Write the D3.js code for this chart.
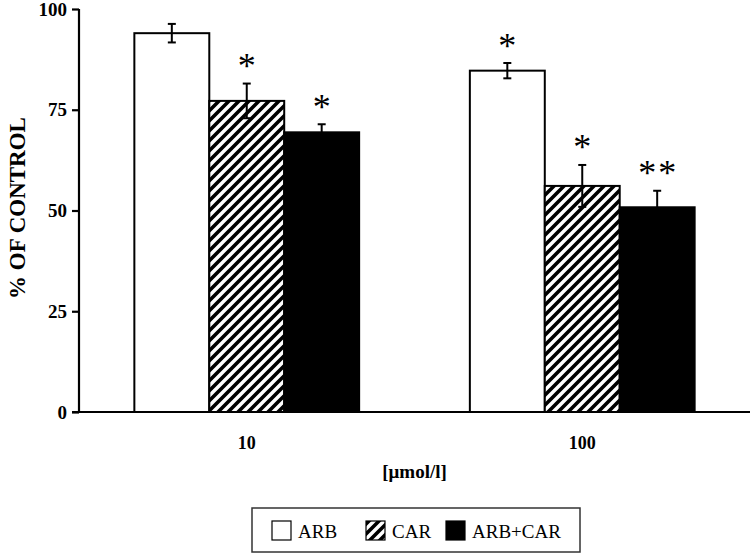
<!DOCTYPE html>
<html><head><meta charset="utf-8">
<script src="https://cdn.jsdelivr.net/npm/d3@7"></script>
<style>body{margin:0;background:#fff}svg{display:block}text{font-family:"Liberation Serif","Times New Roman",serif}</style>
</head><body><svg id="c" width="750" height="554"></svg>
<script>
const groups = ["10", "100"];
const series = ["ARB", "CAR", "ARB+CAR"];
const means = [[94.0, 77.2, 69.4], [84.7, 56.1, 50.8]];
const errs = [[2.3, 4.3, 2.0], [1.9, 5.2, 4.1]];
const stars = [["", "*", "*"], ["*", "*", "**"]];
const yTicks = [0, 25, 50, 75, 100];

const svg = d3.select("#c");
const defs = svg.append("defs");
const pat = defs.append("pattern").attr("id", "hatch").attr("patternUnits", "userSpaceOnUse")
  .attr("width", 10).attr("height", 10);
pat.append("rect").attr("width", 10).attr("height", 10).attr("fill", "#fff");
pat.append("path").attr("d", "M-2.5,2.5 L2.5,-2.5 M0,10 L10,0 M7.5,12.5 L12.5,7.5")
  .attr("stroke", "#000").attr("stroke-width", 3.6);

const fills = ["#fff", "url(#hatch)", "#000"];
const y = d3.scaleLinear().domain([0, 100]).range([412, 9]);
const x0 = d3.scaleBand().domain(groups).range([79, 750]).paddingInner(0.33).paddingOuter(0.165);
const x1 = d3.scaleBand().domain(series).range([0, x0.bandwidth()]);

const g = svg.append("g");
groups.forEach((grp, gi) => {
  series.forEach((s, si) => {
    const bx = x0(grp) + x1(s), bw = x1.bandwidth();
    g.append("rect").attr("x", bx).attr("y", y(means[gi][si])).attr("width", bw)
      .attr("height", y(0) - y(means[gi][si])).attr("fill", fills[si])
      .attr("stroke", "#000").attr("stroke-width", 2);
    const cx = bx + bw / 2, hi = y(means[gi][si] + errs[gi][si]), lo = y(means[gi][si] - errs[gi][si]);
    g.append("line").attr("x1", cx).attr("x2", cx).attr("y1", hi).attr("y2", lo).attr("stroke", "#000").attr("stroke-width", 2);
    g.append("line").attr("x1", cx - 4).attr("x2", cx + 4).attr("y1", hi).attr("y2", hi).attr("stroke", "#000").attr("stroke-width", 2);
    g.append("line").attr("x1", cx - 4).attr("x2", cx + 4).attr("y1", lo).attr("y2", lo).attr("stroke", "#000").attr("stroke-width", 2);
    if (stars[gi][si]) {
      g.append("text").attr("x", cx + 1).attr("y", hi - 5.5).attr("text-anchor", "middle")
        .attr("font-size", 36).style("letter-spacing", "2px").text(stars[gi][si]);
    }
  });
});

// axes
const yAxis = svg.append("g").attr("transform", "translate(79,0)")
  .call(d3.axisLeft(y).tickValues(yTicks).tickSize(7).tickPadding(5));
yAxis.select(".domain").attr("stroke-width", 2.2).attr("d", "M0,412V9");
yAxis.selectAll(".tick line").attr("stroke-width", 2.2);
yAxis.selectAll("text").attr("font-size", 19).attr("font-weight", "bold");

const xAxis = svg.append("g").attr("transform", "translate(0,412)")
  .call(d3.axisBottom(x0).tickSize(0).tickPadding(24));
xAxis.select(".domain").attr("stroke-width", 2.2).attr("d", "M72,0H750");
xAxis.selectAll("text").attr("font-size", 18).attr("font-weight", "bold");

svg.append("text").attr("transform", "translate(25,208) rotate(-90)").attr("text-anchor", "middle")
  .attr("font-size", 23).attr("font-weight", "bold").text("% OF CONTROL");
svg.append("text").attr("x", 414.5).attr("y", 478).attr("text-anchor", "middle")
  .attr("font-size", 19).attr("font-weight", "bold").text("[μmol/l]");

// legend
const lg = svg.append("g");
lg.append("rect").attr("x", 252).attr("y", 508).attr("width", 328).attr("height", 44)
  .attr("fill", "#fff").attr("stroke", "#333").attr("stroke-width", 1.5);
const lx = [272, 366, 446];
series.forEach((s, i) => {
  lg.append("rect").attr("x", lx[i]).attr("y", 521).attr("width", 19).attr("height", 19)
    .attr("fill", fills[i]).attr("stroke", "#000").attr("stroke-width", 1.2);
  lg.append("text").attr("x", lx[i] + 26).attr("y", 538).attr("font-size", 19).text(s);
});
</script></body></html>
